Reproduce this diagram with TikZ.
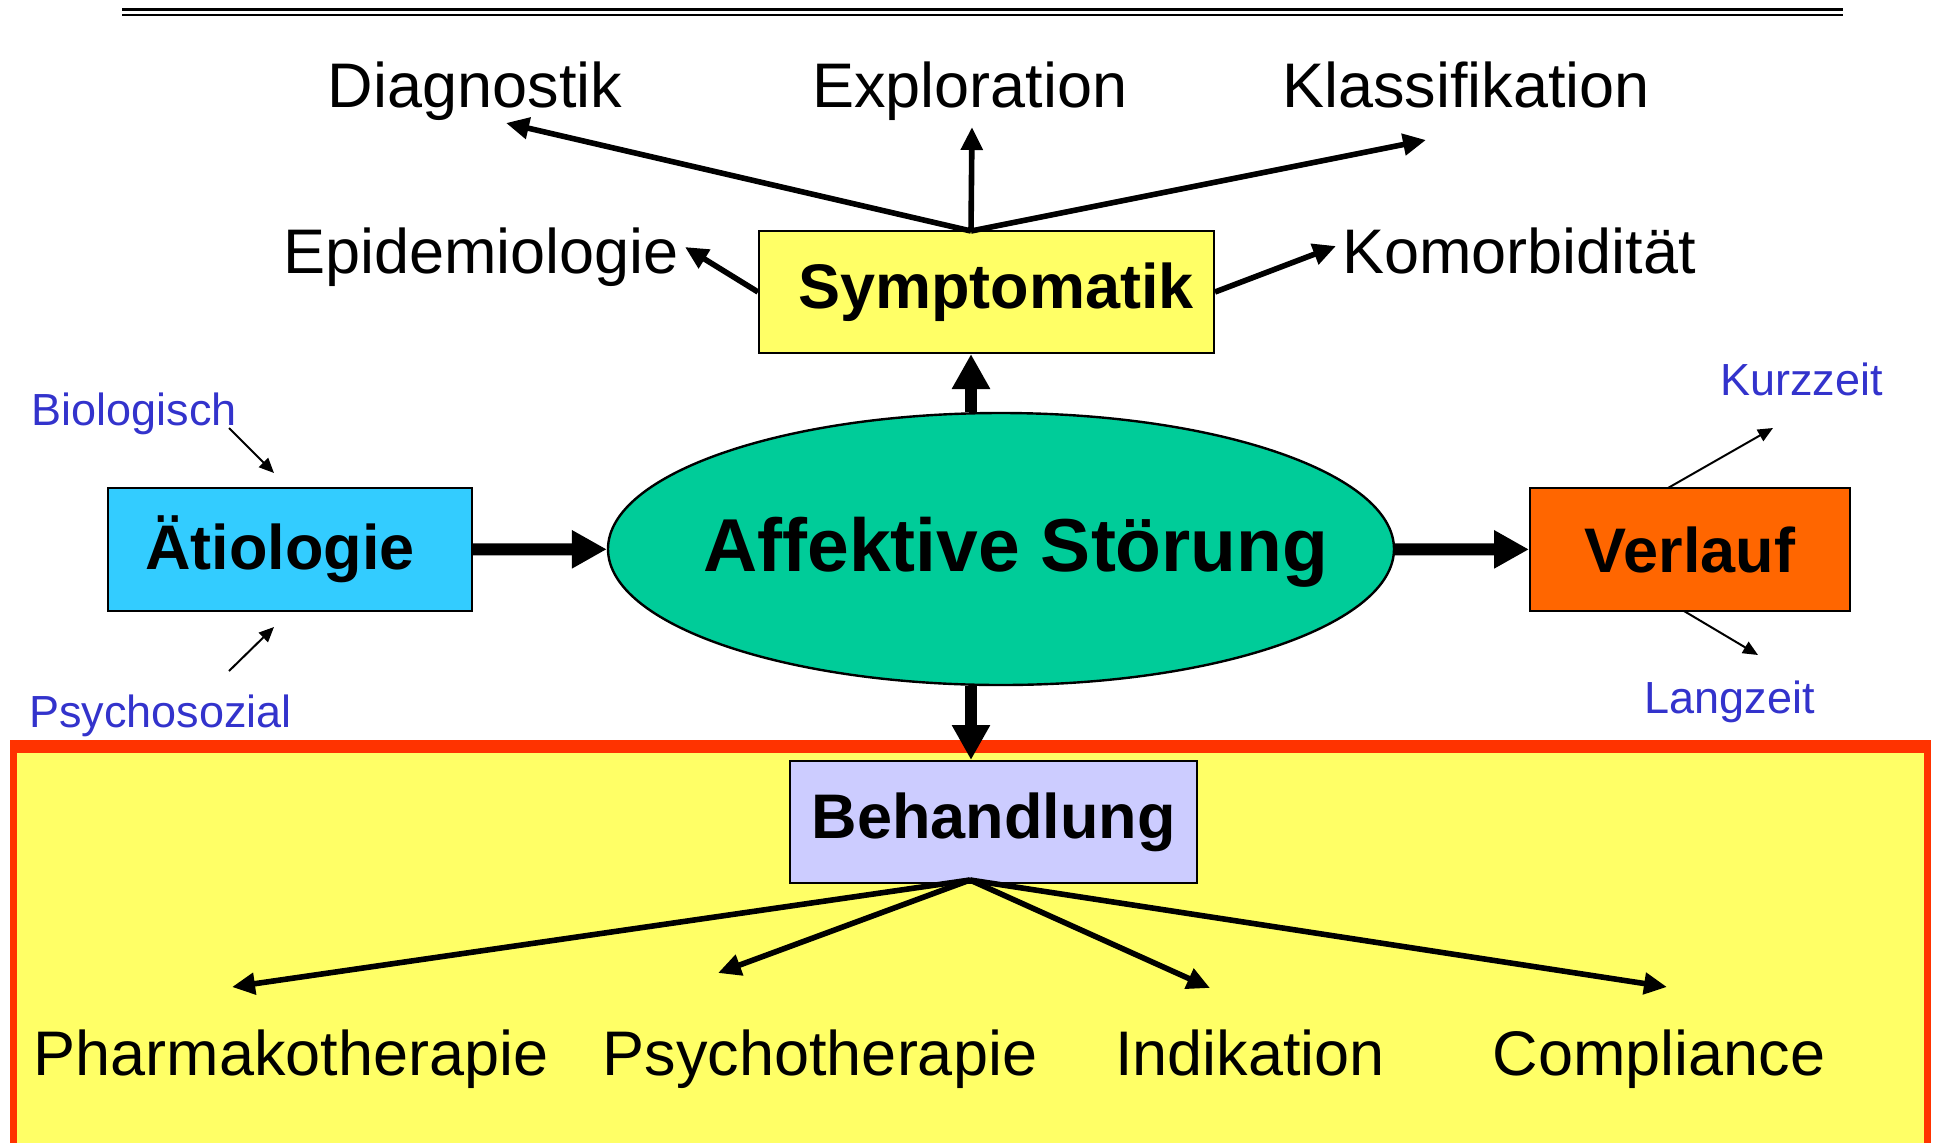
\documentclass[tikz,border=0pt]{standalone}
\usepackage{fontspec}
\setmainfont{Liberation Sans}
\usetikzlibrary{arrows.meta,shapes.geometric}
\definecolor{ink}{RGB}{0,0,0}
\definecolor{symfill}{RGB}{255,255,102}
\definecolor{aetfill}{RGB}{51,204,255}
\definecolor{afffill}{RGB}{0,204,153}
\definecolor{verfill}{RGB}{255,102,0}
\definecolor{behfill}{RGB}{204,204,255}
\definecolor{zonefill}{RGB}{255,255,102}
\definecolor{zonestroke}{RGB}{255,51,0}
\definecolor{side}{RGB}{51,51,204}
\tikzset{
  box/.style={
    draw=ink, line width=1pt, fill=#1,
    minimum height=61pt, inner sep=0pt,
    font=\fontsize{31.5}{36}\selectfont\bfseries,
  },
  box/.default=white,
  core/.style={
    ellipse, draw=ink, line width=1.2pt, fill=afffill,
    minimum width=393pt, minimum height=136pt, inner sep=0pt,
  },
  corelbl/.style={anchor=base, inner sep=0pt, font=\fontsize{37.5}{42}\selectfont\bfseries},
  topic/.style={anchor=base, inner sep=0pt, font=\fontsize{31.5}{36}\selectfont},
  factor/.style={anchor=base, inner sep=0pt, text=side, font=\fontsize{22.5}{26}\selectfont},
  fat/.style={-{Triangle[length=17.5pt,width=18pt]}, line width=6pt, draw=ink},
  mid/.style={-{Triangle[length=11.5pt,width=10.5pt]}, line width=2.8pt, draw=ink},
  slim/.style={-{Triangle[length=7.5pt,width=6.5pt]}, line width=1pt, draw=ink},
}
\begin{document}
\begin{tikzpicture}[x=0.5pt,y=-0.5pt]
  \useasboundingbox (0,0) rectangle (1934,1142);

  % double rule
  \draw[line width=1.3pt] (122,9.2) -- (1843,9.2);
  \draw[line width=1.3pt] (122,15) -- (1843,15);

  % treatment zone
  \fill[zonestroke] (10,740) rectangle (1931,1150);
  \fill[zonefill] (17,753) rectangle (1924,1150);

  % boxes
  \node[core] (aff) at (1001,549) {};
  \node[corelbl] (afflbl) at (1016,571) {Affektive Störung};
  \node[box=symfill, minimum width=227.5pt, text width=207.5pt, align=right] (sym) at (986.5,292) {Symptomatik};
  \node[box=aetfill, minimum width=182pt, minimum height=61.5pt, text width=144.5pt, align=left] (aet) at (290,549.5) {Ätiologie};
  \node[box=verfill, minimum width=160pt, minimum height=61.5pt] (ver) at (1690,549.5) {Verlauf};
  \node[box=behfill, minimum width=203.5pt] (beh) at (993.5,822) {Behandlung};

  % upper topics
  \node[topic] (dia) at (475,107) {Diagnostik};
  \node[topic] (exp) at (970,107) {Exploration};
  \node[topic] (kla) at (1466,107) {Klassifikation};
  \node[topic] (epi) at (481,273) {Epidemiologie};
  \node[topic] (kom) at (1519,273) {Komorbidität};

  % side factors
  \node[factor] (bio) at (134.5,425) {Biologisch};
  \node[factor] (psy) at (160.5,727) {Psychosozial};
  \node[factor] (kur) at (1801.5,395) {Kurzzeit};
  \node[factor] (lan) at (1729.5,713) {Langzeit};

  % therapy topics
  \node[topic] (pha) at (291,1075) {Pharmakotherapie};
  \node[topic] (pst) at (820,1075) {Psychotherapie};
  \node[topic] (ind) at (1250,1075) {Indikation};
  \node[topic] (com) at (1659,1075) {Compliance};

  % arrow ends
  \coordinate (spine) at (971,0);
  \coordinate (symtop) at (971,231);
  \coordinate (behbot) at (970,880);
  \coordinate (diatip) at (506,123);
  \coordinate (exptip) at (972,127);
  \coordinate (klatip) at (1426,140);
  \coordinate (epitip) at (685,247);
  \coordinate (komtip) at (1336,246);
  \coordinate (biotail) at (229,428);
  \coordinate (biotip) at (274,473);
  \coordinate (psytail) at (229,671);
  \coordinate (psytip) at (274,627);
  \coordinate (kurfoot) at (1668,488);
  \coordinate (kurtip) at (1773,428);
  \coordinate (lanfoot) at (1684,611);
  \coordinate (lantip) at (1758,655);
  \coordinate (phatip) at (232,987);
  \coordinate (psttip) at (718,973);
  \coordinate (indtip) at (1210,988);
  \coordinate (comtip) at (1667,987);

  % main flow
  \draw[fat] (aet) -- (aff);
  \draw[fat] (aff) -- (ver);
  \draw[fat] (aff.north -| spine) -- (sym.south -| spine);
  \draw[fat] (aff.south -| spine) -- (beh.north -| spine);

  % symptomatik fan
  \draw[mid] (symtop) -- (diatip);
  \draw[mid] (symtop) -- (exptip);
  \draw[mid] (symtop) -- (klatip);
  \draw[mid] (sym.west) -- (epitip);
  \draw[mid] (sym.east) -- (komtip);

  % factors
  \draw[slim] (biotail) -- (biotip);
  \draw[slim] (psytail) -- (psytip);
  \draw[slim] (kurfoot) -- (kurtip);
  \draw[slim] (lanfoot) -- (lantip);

  % behandlung fan
  \draw[mid] (behbot) -- (phatip);
  \draw[mid] (behbot) -- (psttip);
  \draw[mid] (behbot) -- (indtip);
  \draw[mid] (behbot) -- (comtip);
\end{tikzpicture}
\end{document}
